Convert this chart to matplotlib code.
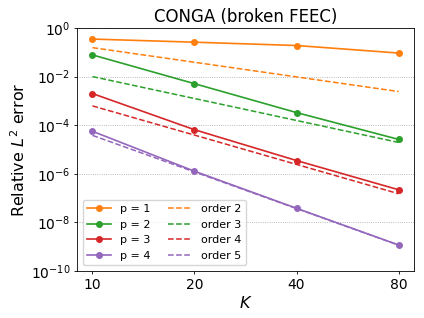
import matplotlib
matplotlib.use("Agg")
import matplotlib.pyplot as plt
from matplotlib.ticker import FixedLocator, NullLocator, FixedFormatter, LogFormatterMathtext

K = [10, 20, 40, 80]
err_p1 = [0.35, 0.26, 0.19, 0.093]
err_p2 = [0.078, 0.0051, 3.3e-4, 2.6e-5]
err_p3 = [2.0e-3, 6.5e-5, 3.5e-6, 2.2e-7]
err_p4 = [5.6e-5, 1.27e-6, 3.8e-8, 1.17e-9]
ref_o2 = [0.155, 0.0388, 0.0097, 0.00242]
ref_o3 = [0.0100, 0.00125, 1.56e-4, 1.95e-5]
ref_o4 = [6.2e-4, 3.9e-5, 2.42e-6, 1.51e-7]
ref_o5 = [3.8e-5, 1.19e-6, 3.7e-8, 1.16e-9]
labels_p = ["p = 1", "p = 2", "p = 3", "p = 4"]
labels_o = ["order 2", "order 3", "order 4", "order 5"]
colors = ["tab:orange", "tab:green", "tab:red", "tab:purple"]
xticks = [10, 20, 40, 80]
xticklabels = ["10", "20", "40", "80"]
yticks = [1e-10, 1e-8, 1e-6, 1e-4, 1e-2, 1e0]

fig, ax = plt.subplots(figsize=(4.24, 3.18), dpi=100)
fig.subplots_adjust(left=0.182, right=0.976, top=0.912, bottom=0.148)

errs = [err_p1, err_p2, err_p3, err_p4]
refs = [ref_o2, ref_o3, ref_o4, ref_o5]
for e, lab, c in zip(errs, labels_p, colors):
    ax.plot(K, e, '-o', color=c, lw=1.2, ms=4, label=lab)
for r, lab, c in zip(refs, labels_o, colors):
    ax.plot(K, r, '--', color=c, lw=1.1, label=lab)

ax.set_xscale('log')
ax.set_yscale('log')
ax.set_ylim(1e-10, 1e0)
ax.xaxis.set_major_locator(FixedLocator(xticks))
ax.xaxis.set_major_formatter(FixedFormatter(xticklabels))
ax.xaxis.set_minor_locator(NullLocator())
ax.yaxis.set_major_locator(FixedLocator(yticks))
ax.yaxis.set_major_formatter(LogFormatterMathtext())
ax.yaxis.set_minor_locator(NullLocator())
ax.tick_params(labelsize=10, length=2.5, width=0.6, pad=2.5)
for s in ax.spines.values():
    s.set_linewidth(0.6)
ax.grid(True, axis='y', which='major', ls=':', color='gray', lw=0.6, alpha=0.7)

ax.set_title("CONGA (broken FEEC)", fontsize=12, pad=4.5)
ax.set_xlabel("$K$", fontsize=11.5, labelpad=2)
ax.set_ylabel("Relative $L^2$ error", fontsize=11.5, labelpad=2)

handles, labs = ax.get_legend_handles_labels()
ax.legend(handles, labs, ncol=2, loc='lower left', fontsize=8,
          handlelength=2.1, columnspacing=1.6, labelspacing=0.5,
          handletextpad=0.85)

fig.savefig("out.png", dpi=100)
